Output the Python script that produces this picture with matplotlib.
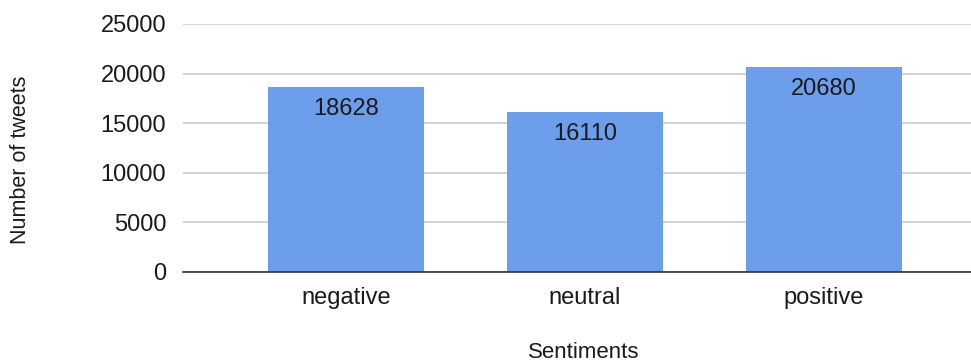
import matplotlib
matplotlib.use('Agg')
import matplotlib.pyplot as plt

plt.rcParams['font.family'] = ['Liberation Sans', 'DejaVu Sans']

# tweet counts per sentiment class
sentiments = ['negative', 'neutral', 'positive']
counts = [18628, 16110, 20680]
yticks = [0, 5000, 10000, 15000, 20000, 25000]

bar_color = '#6d9eeb'

fig = plt.figure(figsize=(9.71, 3.63), dpi=100)
ax = fig.add_axes([0.1885, 0.2507, 0.8115, 0.6832])

xs = list(range(len(sentiments)))
ax.bar(xs, counts, width=0.65, color=bar_color, zorder=2)

for x, c in zip(xs, counts):
    ax.annotate(str(c), (x, c), xytext=(0, -16), textcoords='offset points',
                ha='center', va='center', fontsize=17, color='#1a1a1a', zorder=3)

ax.set_xlim(-0.682, 2.615)
ax.set_ylim(0, 25000)
ax.set_yticks(yticks)
ax.set_yticklabels([str(t) for t in yticks])
ax.set_xticks(xs)
ax.set_xticklabels(sentiments)

ax.grid(axis='y', color='#cccccc', linewidth=1.2, zorder=0)
ax.set_axisbelow(True)
for s in ['top', 'right', 'left']:
    ax.spines[s].set_visible(False)
ax.spines['bottom'].set_color('#333333')
ax.spines['bottom'].set_linewidth(1.2)
ax.spines['bottom'].set_zorder(3)

ax.tick_params(axis='both', length=0, labelsize=17, colors='#1a1a1a')
ax.tick_params(axis='y', pad=12)
ax.tick_params(axis='x', pad=11)

fig.text(0.6014, 0.03, 'Sentiments', fontsize=16, color='#1a1a1a',
         ha='center', va='center')
fig.text(0.021, 0.56, 'Number of tweets', rotation=90, fontsize=15.5,
         color='#1a1a1a', ha='center', va='center')

fig.savefig('out.png', dpi=100)
